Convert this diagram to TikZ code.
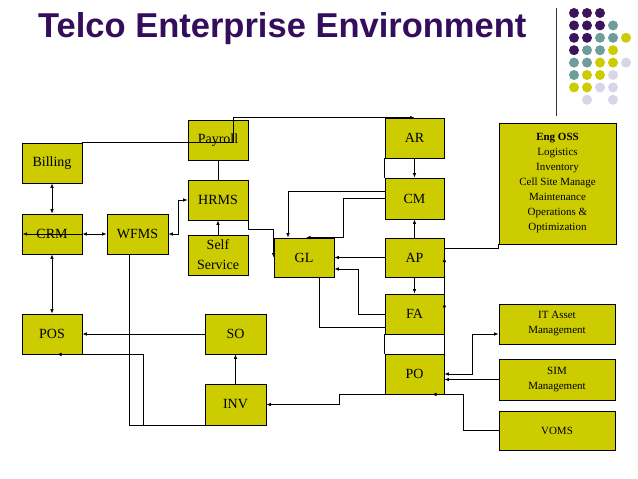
\documentclass[tikz,border=0pt]{standalone}
\usepackage{fontspec}
\setmainfont{Liberation Serif}
\newfontfamily\titlefont{Liberation Sans}
\usetikzlibrary{arrows.meta}
\definecolor{boxc}{RGB}{204,204,0}
\definecolor{titlec}{RGB}{52,14,92}
\definecolor{dotP}{RGB}{60,20,90}
\definecolor{dotT}{RGB}{110,158,155}
\definecolor{dotY}{RGB}{204,204,0}
\definecolor{dotL}{RGB}{214,214,232}
\tikzset{
  blk/.style={draw, line width=0.8pt, fill=boxc, minimum width=60pt, minimum height=40pt, inner sep=0pt, align=center, font=\fontsize{14}{20}\selectfont},
  smallblk/.style={blk, minimum width=116pt, font=\fontsize{11}{15}\selectfont},
  conn/.style={line width=0.8pt},
  arr/.style={conn, -{Latex[length=4.5pt,width=3.6pt]}},
  darr/.style={conn, {Latex[length=4.5pt,width=3.6pt]}-{Latex[length=4.5pt,width=3.6pt]}},
}
\begin{document}
\begin{tikzpicture}[x=1pt,y=-1pt]
\useasboundingbox[fill=white] (0,0) rectangle (638,479);
% title
\node[anchor=base west, inner sep=0pt, text=titlec, font=\titlefont\bfseries\fontsize{34.5}{40}\selectfont] (title) at (38,37.7) {Telco Enterprise Environment};
% header rule
\coordinate (ruleTop) at (556,8);
\coordinate (ruleBot) at (556,116);
\draw[line width=0.7pt, black!80] (ruleTop) -- (ruleBot);
% dots
\foreach \c/\r/\col in {1/1/dotP,2/1/dotP,3/1/dotP,
  1/2/dotP,2/2/dotP,3/2/dotP,4/2/dotT,
  1/3/dotP,2/3/dotP,3/3/dotT,4/3/dotT,5/3/dotY,
  1/4/dotP,2/4/dotT,3/4/dotT,4/4/dotY,
  1/5/dotT,2/5/dotT,3/5/dotY,4/5/dotY,5/5/dotL,
  1/6/dotT,2/6/dotY,3/6/dotY,4/6/dotL,
  1/7/dotY,2/7/dotY,3/7/dotL,4/7/dotL,
  2/8/dotL,4/8/dotL}
  \fill[\col] ({574+13*(\c-1)},{13+12.4*(\r-1)}) circle (5pt);
% boxes
\node[blk] (Billing) at (52,163) {Billing};
\node[blk] (CRM) at (52,234) {CRM};
\node[blk, minimum width=61pt] (WFMS) at (137.5,234) {WFMS};
\node[blk] (Payroll) at (218,140) {Payroll};
\node[blk] (HRMS) at (218,200) {HRMS};
\node[blk] (Self) at (218,255) {Self\\Service};
\node[blk, minimum height=39pt] (GL) at (304,257.5) {GL};
\node[blk, minimum width=59pt] (AR) at (414.5,138) {AR};
\node[blk, minimum width=59pt, minimum height=41pt] (CM) at (414.5,198.5) {CM};
\node[blk, minimum width=59pt, minimum height=39pt] (AP) at (414.5,257.5) {AP};
\node[blk, minimum width=59pt] (FA) at (414.5,314) {FA};
\node[blk, minimum width=59pt] (PO) at (414.5,374) {PO};
\node[smallblk, minimum width=117pt, minimum height=121pt] (OSS) at (557.5,183.5) {\textbf{Eng OSS}\\Logistics\\Inventory\\Cell Site Manage\\Maintenance\\Operations \&\\Optimization};
\node[smallblk] (IT) at (557,324) {IT Asset\\Management};
\node[smallblk, minimum height=41pt] (SIM) at (557,379.5) {SIM\\Management};
\node[smallblk, minimum height=39pt] (VOMS) at (557,430.5) {VOMS};
\node[blk] (POS) at (52,334) {POS};
\node[blk, minimum width=61pt] (SO) at (235.5,334) {SO};
\node[blk, minimum width=61pt, minimum height=41pt] (INV) at (235.5,404.5) {INV};
% connectors
\draw[arr] (Billing.north east) -- ++(151,0) |- (AR.north);
\draw[darr] (Billing.south) -- (CRM.north);
\draw[darr] (CRM.south) -- (POS.north);
\draw[darr] (WFMS.west) -- (CRM.east);
\draw[arr] (CRM.east) -- ([xshift=1pt]CRM.west);
\draw[darr] (WFMS.east) -- ++(10,0) |- (HRMS.west);
\draw[conn] (Payroll.south) -- (HRMS.north);
\draw[arr] (Self.north) -- (HRMS.south);
\draw[arr] (HRMS.south east) -- ++(0,9) -| (GL.west);
\draw[arr] ([yshift=7pt]CM.west) -| ([xshift=-16pt]GL.north);
\draw[arr] (CM.west) -- ++(-41,0) |- ([xshift=2pt]GL.north);
\draw[arr] (AP.west) -- (GL.east);
\draw[arr] (FA.west) -- ++(-26,0) |- ([yshift=-11.5pt]GL.east);
\draw[conn] ([xshift=15pt]GL.south) |- ([yshift=-13pt]FA.west);
\draw[arr] (AR.south) -- (CM.north);
\draw[arr] (AP.north) -- (CM.south);
\draw[arr] (AP.south) -- (FA.north);
\draw[conn] (AR.south west) -- (CM.north west);
\draw[conn] ([yshift=9pt]AP.east) -| (OSS.south west);
\draw[arr] (PO.north east) -- (AP.east);
\draw[arr] (AP.south east) -- ([yshift=4pt]FA.east);
\draw[conn] (FA.south west) -- (PO.north west);
\draw[darr] (PO.east) -- ++(28,0) |- ([yshift=-10pt]IT.west);
\draw[arr] (SIM.west) -- (SIM.west -| PO.east);
\draw[arr] (VOMS.west) -- ++(-35,0) |- ([xshift=17.5pt]PO.south);
\draw[arr] (PO.south west) -- ++(-45,0) |- (INV.east);
\draw[arr] (INV.north) -- (SO.south);
\draw[arr] (SO.west) -- (POS.east);
\draw[arr] (INV.south west) -- ++(-61,0) |- ([xshift=5pt]POS.south);
\draw[conn] ([xshift=-8.5pt]WFMS.south) |- (INV.south west);
\end{tikzpicture}
\end{document}
